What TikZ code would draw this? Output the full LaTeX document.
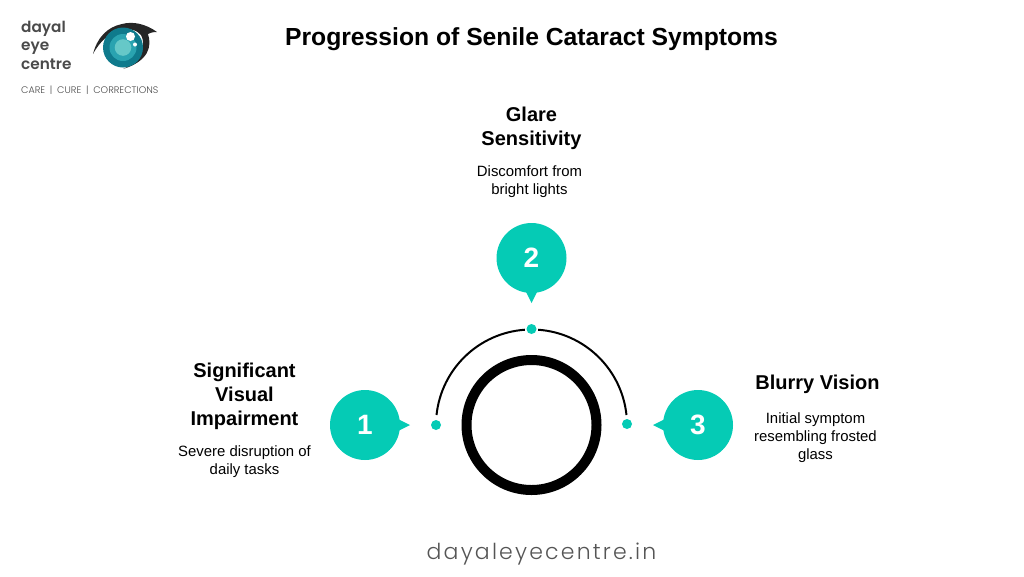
\documentclass[tikz,border=0pt]{standalone}
\usepackage{fontspec}
\usepackage{xcolor}
\setmainfont{Liberation Sans}
\newfontfamily\logofont{Poppins SemiBold}
\newfontfamily\tagfont{Poppins Light}
\newfontfamily\sitefont[LetterSpace=10]{Poppins Light}
\definecolor{tealbubble}{HTML}{05CBB5}
\definecolor{logogray}{HTML}{4A4A4A}
\definecolor{sitegray}{HTML}{555555}
\definecolor{irisdark}{HTML}{0F7A8C}
\definecolor{irismid}{HTML}{2AA3B0}
\definecolor{irislight}{HTML}{66C8C8}
\usetikzlibrary{positioning}
\tikzset{
	bubble/.style={circle, fill=tealbubble, minimum size=70pt, inner sep=0pt, text=white, font=\fontsize{28}{32}\selectfont\bfseries},
	dotmark/.style={circle, fill=tealbubble, minimum size=10pt, inner sep=0pt},
	heading/.style={align=center, font=\fontsize{20}{24}\selectfont\bfseries},
	caption/.style={align=center, font=\fontsize{14.9}{18}\selectfont},
	logotext/.style={anchor=west, align=left, text=logogray, font=\fontsize{15.3}{18.5}\selectfont\logofont}
}
\begin{document}
\begin{tikzpicture}[x=1pt, y=-1pt]
	\useasboundingbox (0,0) rectangle (1024,576);
	% logo
	\node[logotext, inner sep=0pt] (logoname) at (21,45) {dayal\\eye\\centre};
	\node[anchor=west, inner sep=0pt, text=logogray, font=\fontsize{9.55}{11}\selectfont\tagfont] (logotag) at (21,90.5) {CARE\,\,\,|\,\,\,CURE\,\,\,|\,\,\,CORRECTIONS};
	\fill[black!85] (93,54) .. controls (97,38) and (107,27) .. (122,24) .. controls (133,21) and (146,24) .. (157,32) .. controls (152,32) and (150,33) .. (148,34) .. controls (152,46) and (149,61) .. (123,69) .. controls (143,60) and (146,44) .. (141,35) .. controls (133,25) and (108,26) .. (93,54) -- cycle;
	\fill[irisdark] (123,47.5) circle (20);
	\fill[irismid] (123,47.5) circle (13.5);
	\fill[irislight] (123,47.5) circle (8.3);
	\fill[white] (130.5,36.5) circle (4.5);
	\fill[white] (135,44.5) circle (2);
	% title
	\node[font=\fontsize{24.7}{30}\selectfont\bfseries] (title) at (531.5,39) {Progression of Senile Cataract Symptoms};
	% ring and arc
	\draw[line width=10pt] (531.5,425) circle (65);
	\coordinate (ringc) at (531.5,425);
	\node[dotmark] (dotone) at (436,425) {};
	\node[dotmark] (dottwo) at (531.5,329) {};
	\node[dotmark] (dotthree) at (627,424) {};
	\draw[line width=2pt] (ringc) ++(-174:95.5) arc (-174:-94:95.5);
	\draw[line width=2pt] (ringc) ++(-86:95.5) arc (-86:-6:95.5);
	% pointers
	\fill[tealbubble] (394,417) -- (410,425) -- (394,433) -- cycle;
	\fill[tealbubble] (523.5,287) -- (531.5,303) -- (539.5,287) -- cycle;
	\fill[tealbubble] (669,417) -- (653,425) -- (669,433) -- cycle;
	% bubbles
	\node[bubble] (stepone) at (365,425) {1};
	\node[bubble] (steptwo) at (531.5,258) {2};
	\node[bubble] (stepthree) at (698,425) {3};
	% texts
	\node[heading] (headone) at (244.5,396.5) {Significant\\Visual\\Impairment};
	\node[caption] (capone) at (244.5,462) {Severe disruption of\\daily tasks};
	\node[heading] (headtwo) at (531.5,128.5) {Glare\\Sensitivity};
	\node[caption] (captwo) at (529.5,182) {Discomfort from\\bright lights};
	\node[heading] (headthree) at (817.5,384.5) {Blurry Vision};
	\node[caption] (capthree) at (815.5,438) {Initial symptom\\resembling frosted\\glass};
	% site
	\node[text=sitegray, font=\fontsize{22}{28}\selectfont\sitefont] (site) at (541.5,554) {dayaleyecentre.in};
\end{tikzpicture}
\end{document}
